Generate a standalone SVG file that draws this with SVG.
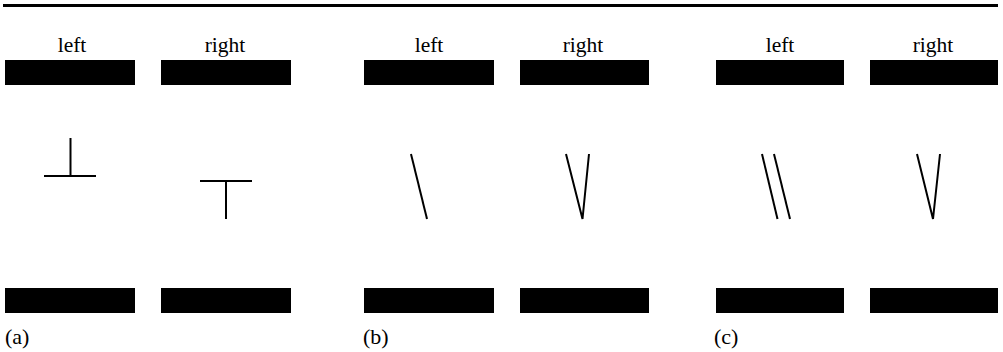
<svg xmlns="http://www.w3.org/2000/svg" width="1003" height="352" viewBox="0 0 1003 352">
<style>
.bar{fill:#000}
text{font-family:'Liberation Serif','DejaVu Serif',serif;fill:#000}
.lbl{font-size:21.5px;text-anchor:middle}
.cap{font-size:22px}
.ln{stroke:#000;stroke-width:2;fill:none;stroke-linecap:butt}
</style>
<rect id="topline" x="3" y="4" width="995" height="3" class="bar"/>
<g id="panel-a">
  <text class="lbl" x="72" y="52" font-family="Liberation Serif, serif">left</text>
  <text class="lbl" x="225" y="52" font-family="Liberation Serif, serif">right</text>
  <rect class="bar" x="5" y="60" width="130" height="25"/>
  <rect class="bar" x="161" y="60" width="130" height="25"/>
  <rect class="bar" x="5" y="288" width="130" height="25"/>
  <rect class="bar" x="161" y="288" width="130" height="25"/>
  <g id="a-left-shape">
    <line class="ln" x1="70.5" y1="138" x2="70.5" y2="176"/>
    <line class="ln" x1="44" y1="176" x2="96" y2="176"/>
  </g>
  <g id="a-right-shape">
    <line class="ln" x1="200" y1="181" x2="252" y2="181"/>
    <line class="ln" x1="226" y1="181" x2="226" y2="219"/>
  </g>
  <text class="cap" x="5" y="344" font-family="Liberation Serif, serif">(a)</text>
</g>
<g id="panel-b">
  <text class="lbl" x="429" y="52" font-family="Liberation Serif, serif">left</text>
  <text class="lbl" x="583" y="52" font-family="Liberation Serif, serif">right</text>
  <rect class="bar" x="364" y="60" width="130" height="25"/>
  <rect class="bar" x="520" y="60" width="129" height="25"/>
  <rect class="bar" x="364" y="288" width="130" height="25"/>
  <rect class="bar" x="520" y="288" width="129" height="25"/>
  <g id="b-left-shape">
    <line class="ln" x1="411" y1="154" x2="427" y2="219"/>
  </g>
  <g id="b-right-shape">
    <polyline class="ln" points="566,154 582.5,219 589,154"/>
  </g>
  <text class="cap" x="363" y="344" font-family="Liberation Serif, serif">(b)</text>
</g>
<g id="panel-c">
  <text class="lbl" x="780" y="52" font-family="Liberation Serif, serif">left</text>
  <text class="lbl" x="933" y="52" font-family="Liberation Serif, serif">right</text>
  <rect class="bar" x="716" y="60" width="128" height="25"/>
  <rect class="bar" x="870" y="60" width="128" height="25"/>
  <rect class="bar" x="716" y="288" width="128" height="25"/>
  <rect class="bar" x="870" y="288" width="128" height="25"/>
  <g id="c-left-shape">
    <line class="ln" x1="762" y1="154" x2="777.5" y2="219"/>
    <line class="ln" x1="774" y1="154" x2="790" y2="219"/>
  </g>
  <g id="c-right-shape">
    <polyline class="ln" points="917,154 933,219 940,154"/>
  </g>
  <text class="cap" x="714" y="344" font-family="Liberation Serif, serif">(c)</text>
</g>
<g id="connectors"/>
</svg>
